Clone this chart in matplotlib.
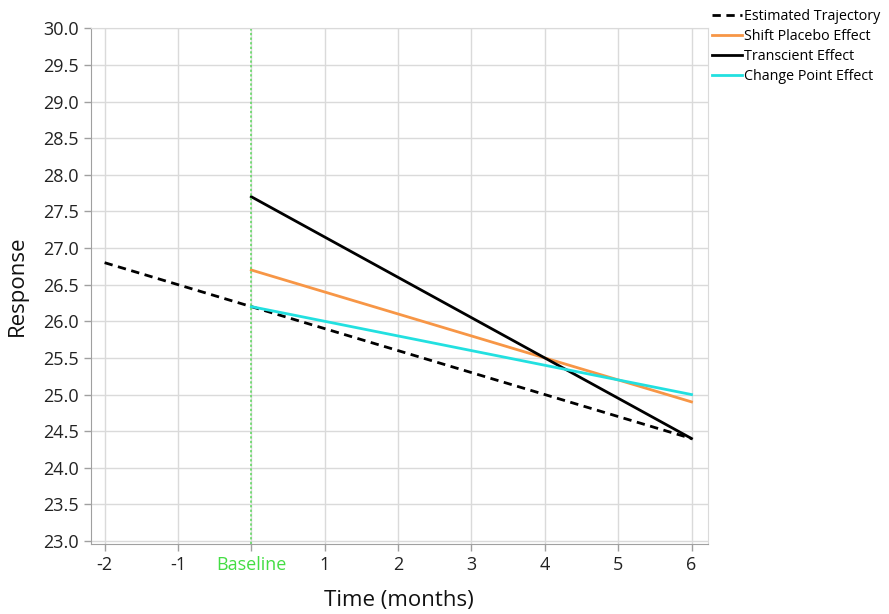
import matplotlib
matplotlib.use("Agg")
import matplotlib.pyplot as plt

plt.rcParams['font.family'] = ['Open Sans', 'DejaVu Sans']

# Trajectories (time in months, response)
est_t = [-2, 6]
est_y = [26.8, 24.4]
shift_t = [0, 6]
shift_y = [26.7, 24.9]
trans_t = [0, 6]
trans_y = [27.7, 24.4]
change_t = [0, 6]
change_y = [26.2, 25.0]

x_ticks = [-2, -1, 0, 1, 2, 3, 4, 5, 6]
x_labels = ['-2', '-1', 'Baseline', '1', '2', '3', '4', '5', '6']
y_ticks = [23.0 + 0.5 * i for i in range(15)]

fig = plt.figure(figsize=(8.89, 6.14), dpi=100)
ax = fig.add_axes([0.102, 0.114, 0.694, 0.840])

ax.plot(est_t, est_y, color='black', linestyle=(0, (3, 2)), lw=2, label='Estimated Trajectory')
ax.plot(shift_t, shift_y, color='#f79646', lw=2, label='Shift Placebo Effect')
ax.plot(trans_t, trans_y, color='black', lw=2, label='Transcient Effect')
ax.plot(change_t, change_y, color='#22e0e0', lw=2, label='Change Point Effect')

ax.axvline(0, color='#5ad85a', linestyle=(0, (1.5, 1.5)), lw=1.1)

ax.set_xlim(-2.19, 6.22)
ax.set_ylim(22.96, 30.0)
ax.set_xticks(x_ticks)
ax.set_xticklabels(x_labels)
ax.set_yticks(y_ticks)
ax.set_yticklabels([f'{v:.1f}' for v in y_ticks])

ax.grid(True, color='#dadada', lw=1)
ax.set_axisbelow(True)
for side in ['left', 'bottom']:
    ax.spines[side].set_color('#a0a0a0')
for side in ['top', 'right']:
    ax.spines[side].set_color('#dadada')
ax.tick_params(axis='both', colors='#a0a0a0', labelcolor='#222222', labelsize=13, length=5, width=1)
ax.get_xticklabels()[2].set_color('#44dd44')

ax.set_xlabel('Time (months)', fontsize=16, color='#111111', labelpad=12)
ax.set_ylabel('Response', fontsize=16, color='#111111', labelpad=11)

leg = ax.legend(loc='upper left', bbox_to_anchor=(0.998, 1.048), frameon=False,
                fontsize=10.3, handlelength=2.1, handletextpad=0.1,
                labelspacing=0.34, borderaxespad=0)

fig.savefig('out.png', dpi=100)
